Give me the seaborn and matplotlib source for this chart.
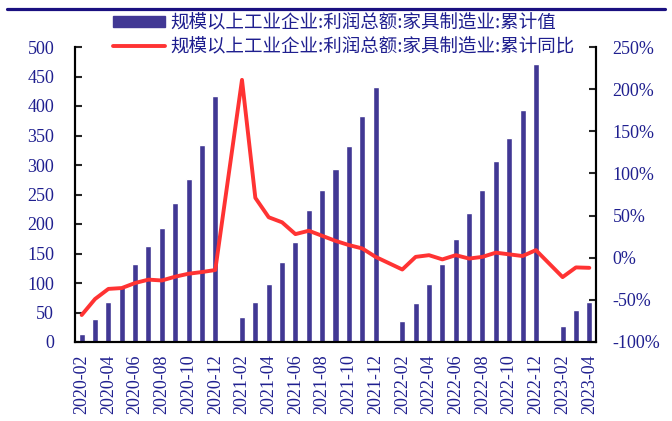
import numpy as np
import pandas as pd
import matplotlib
matplotlib.use("Agg")
import matplotlib.pyplot as plt
from matplotlib.lines import Line2D
from matplotlib.ticker import FuncFormatter, MultipleLocator
import seaborn as sns

# monthly periods, January has no release (Jan-Feb combined)
months = (["2020-%02d" % m for m in range(2, 13)]
          + ["2021-%02d" % m for m in range(1, 13)]
          + ["2022-%02d" % m for m in range(1, 13)]
          + ["2023-%02d" % m for m in range(1, 5)])

# cumulative profit (100 million yuan)
profit = [14, 39, 67, 95, 133, 163, 194, 235, 277, 334, 417,
          np.nan, 42, 67, 98, 135, 170, 223, 258, 294, 333, 383, 433,
          np.nan, 35, 66, 99, 132, 174, 219, 257, 306, 345, 393, 471,
          np.nan, 27, 55, 68]

# cumulative yoy (%)
yoy = [-68, -49, -37, -36, -30, -26, -27, -22.5, -19, -17, -14.6,
       np.nan, 211, 71, 48, 42, 28, 32, 26, 20, 15, 11, 1,
       np.nan, -14, 1, 3, -2, 3, -1, 1, 6, 4, 2, 9,
       np.nan, -23, -11.5, -12]

label_bar = "规模以上工业企业:利润总额:家具制造业:累计值"
label_line = "规模以上工业企业:利润总额:家具制造业:累计同比"

bar_color = "#413894"
line_color = "#ff3333"
navy = "#1f1f8f"

df = pd.DataFrame({"month": months, "profit": profit, "yoy": yoy})
df["pos"] = np.arange(len(df))

sns.set_style("white")
plt.rcParams["font.family"] = ["Liberation Serif", "DejaVu Serif"]

fig = plt.figure(figsize=(6.72, 4.21), dpi=100)
ax = fig.add_axes([75 / 672, 1 - 342 / 421, (596 - 75) / 672, (342 - 47) / 421])

sns.barplot(data=df, x="month", y="profit", order=months, color=bar_color,
            width=0.45, saturation=1, ax=ax)

ax2 = ax.twinx()
line_df = df.dropna(subset=["yoy"])
sns.lineplot(data=line_df, x="pos", y="yoy", color=line_color, lw=2.8,
             ax=ax2, sort=False)

ax.set_xlim(-0.5, len(months) - 0.5)
ax.set_ylim(0, 500)
ax2.set_ylim(-100, 250)
ax.yaxis.set_major_locator(MultipleLocator(50))
ax2.yaxis.set_major_locator(MultipleLocator(50))
ax2.yaxis.set_major_formatter(FuncFormatter(lambda v, p: "%d%%" % v))

# labels on every other month, tick marks between categories
ax.set_xticks(np.arange(0, len(months), 2))
ax.set_xticklabels(months[::2], rotation=90)
ax.set_xticks(np.arange(1.5, len(months) - 1, 2), minor=True)
ax.tick_params(axis="x", which="major", length=0, pad=9, labelsize=13, labelcolor=navy)
ax.tick_params(axis="x", which="minor", direction="in", length=5, width=1.5, color="black")
ax.tick_params(axis="y", direction="in", length=5, width=1.5, labelsize=13,
               labelcolor=navy, pad=15, left=True)
ax2.tick_params(axis="y", direction="in", length=5, width=1.5, labelsize=13,
                labelcolor=navy, pad=12, right=True)
ax.set_xlabel("")
ax.set_ylabel("")
ax2.set_xlabel("")
ax2.set_ylabel("")

for a in (ax, ax2):
    a.spines["top"].set_visible(False)
    for s in ("left", "right", "bottom"):
        a.spines[s].set_color("black")
        a.spines[s].set_linewidth(1.5)
ax.grid(False)
ax2.grid(False)

handles = [plt.Rectangle((0, 0), 1, 1, color=bar_color),
           Line2D([0], [0], color=line_color, lw=2.8)]
leg = fig.legend(handles, [label_bar, label_line], loc="upper left",
                 bbox_to_anchor=(113 / 672, 1 - 14 / 421), frameon=False,
                 borderpad=0, borderaxespad=0, handlelength=2.8,
                 handleheight=0.55, handletextpad=0.3, labelspacing=0.35,
                 prop={"family": ["Noto Sans CJK SC", "DejaVu Sans"], "size": 13.3})
for t in leg.get_texts():
    t.set_color(navy)

# dark rule along the top
fig.add_artist(Line2D([7 / 672, 665 / 672], [1 - 9 / 421, 1 - 9 / 421],
                      color="#1a1080", lw=2.3))

fig.savefig("out.png", dpi=100)
